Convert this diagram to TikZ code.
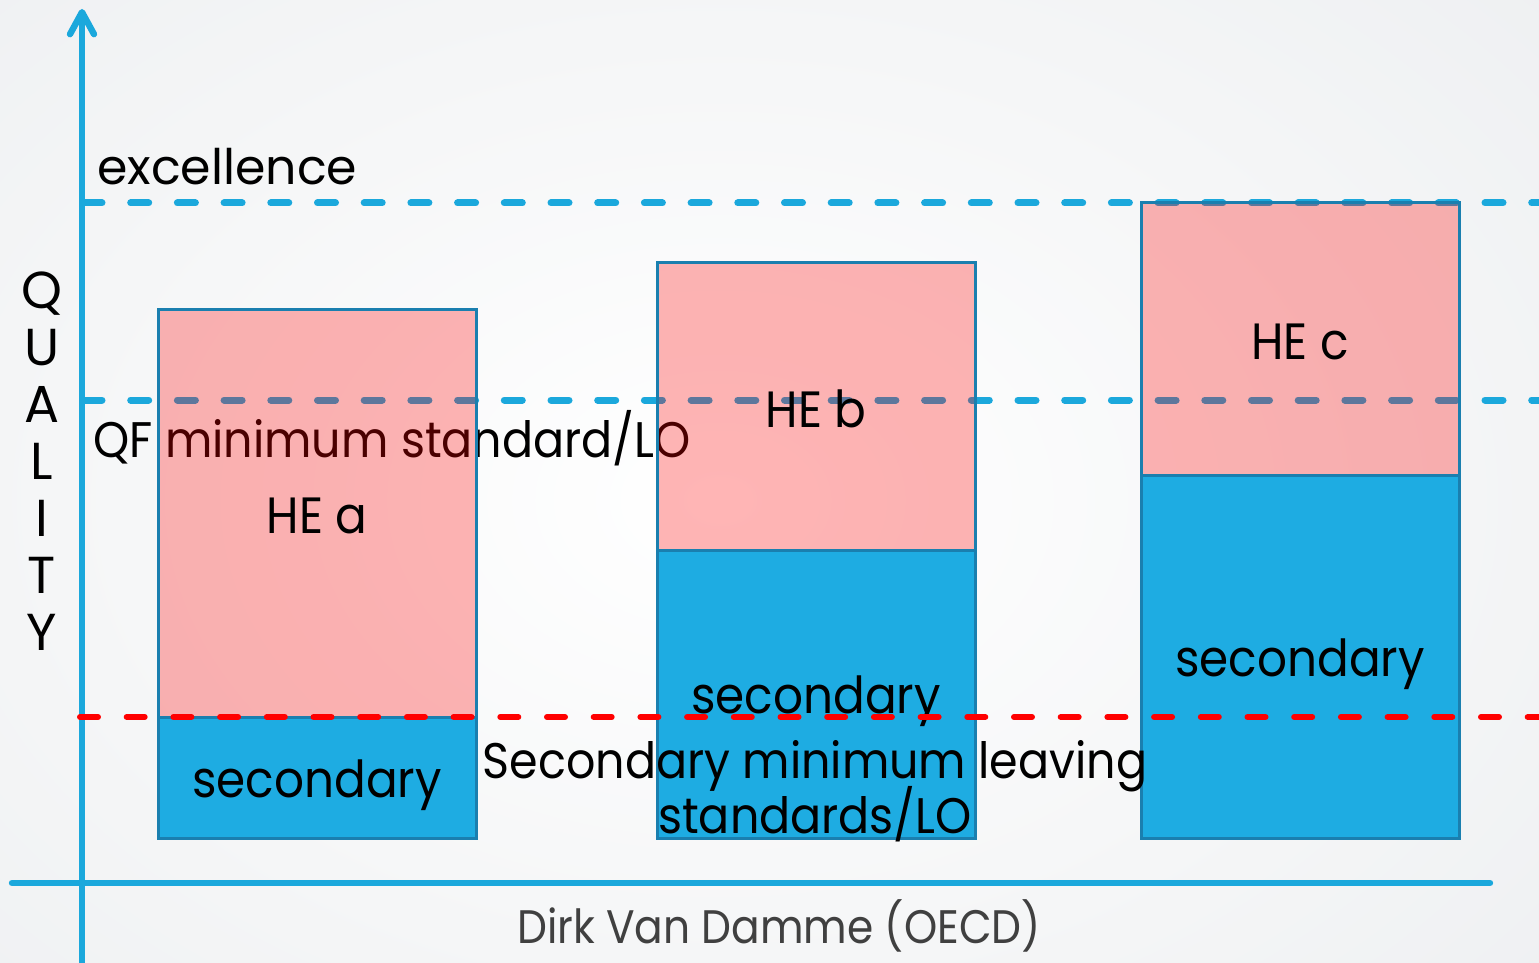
\documentclass[tikz,border=0pt]{standalone}
\usepackage{fontspec}
\setmainfont{Poppins}[FakeStretch=0.92]
\newfontfamily\widefont{Poppins}
\newfontfamily\footfont{Poppins}[FakeStretch=0.9]
\usetikzlibrary{arrows.meta}
\definecolor{axisblue}{HTML}{1BA8DC}
\definecolor{boxblue}{HTML}{1EACE2}
\definecolor{edgeblue}{HTML}{1A7FAF}
\definecolor{footgray}{HTML}{404040}
\definecolor{bggray}{HTML}{E1E4E7}
\begin{document}
\begin{tikzpicture}[x=0.5pt,y=-0.5pt,
  axis/.style={line width=3.2pt, axisblue, line cap=round},
  level/.style={line width=3.5pt, axisblue, line cap=round, dash pattern=on 9pt off 14.35pt},
  floor/.style={line width=3pt, red, line cap=round, dash pattern=on 9pt off 14.35pt},
  label/.style={inner sep=0pt, font=\fontsize{25}{30}\selectfont},
  secbox/.style={draw=edgeblue, line width=1.5pt, fill=boxblue, inner sep=0pt, outer sep=0pt,
    minimum width=159pt, text height=19.5pt, text depth=0pt,
    font=\fontsize{25.5}{30}\selectfont},
  hebox/.style={draw=edgeblue, line width=1.5pt, fill=red, fill opacity=0.29, draw opacity=1,
    text opacity=1, inner sep=0pt, outer sep=0pt, minimum width=159pt,
    text height=20.5pt, text depth=0pt, font=\fontsize{25.5}{30}\selectfont},
]
\useasboundingbox (0,0) rectangle (1539,963);
% background
\shade[inner color=white, outer color=bggray] (-1280,-900) rectangle (2720,1900);

% axes
\coordinate (ybot) at (82,975);
\coordinate (ytop) at (82,9);
\coordinate (xl) at (12,883);
\coordinate (xr) at (1490,883);
\draw[axis, -{Straight Barb[round, length=11pt, width=12pt]}] (ybot) -- (ytop);
\draw[axis] (xl) -- (xr);

% quality levels
\coordinate (exl) at (84,203);
\coordinate (exr) at (1560,203);
\coordinate (qfl) at (84,400);
\coordinate (qfr) at (1560,400);
\draw[level] (exl) -- (exr);
\draw[level] (qfl) -- (qfr);

\node[label, font=\widefont\fontsize{24.5}{30}\selectfont, anchor=base west] (excellence) at (97,185) {excellence};
\node[label, anchor=base west] (qf) at (93,457) {QF minimum standard/LO};

% secondary parts
\node[secbox, minimum height=60.5pt] (seca) at (317,777.5) {secondary};
\node[secbox, minimum height=144pt] (secb) at (816,694) {secondary};
\node[secbox, minimum height=181.5pt] (secc) at (1300,656.5) {secondary};

% higher education parts
\node[hebox, minimum height=204pt] (hea) at (317,513) {HE a};
\node[hebox, minimum height=143.5pt] (heb) at (816,406.5) {HE b};
\node[hebox, minimum height=136pt] (hec) at (1300,339) {HE c};

% secondary minimum
\coordinate (sml) at (80,717);
\coordinate (smr) at (1560,717);
\draw[floor] (sml) -- (smr);
\node[label, anchor=base] (sm1) at (815,778) {Secondary minimum leaving};
\node[label, anchor=base] (sm2) at (815,833) {standards/LO};

% vertical axis title
\node[inner sep=0pt, align=center, font=\widefont\fontsize{26}{28.5}\selectfont] (quality) at (42,461)
  {Q\\U\\A\\L\\I\\T\\Y};

% credit
\node[inner sep=0pt, anchor=base, text=footgray, font=\footfont\fontsize{23.5}{28}\selectfont] (credit) at (779,943)
  {Dirk Van Damme (OECD)};
\end{tikzpicture}
\end{document}
